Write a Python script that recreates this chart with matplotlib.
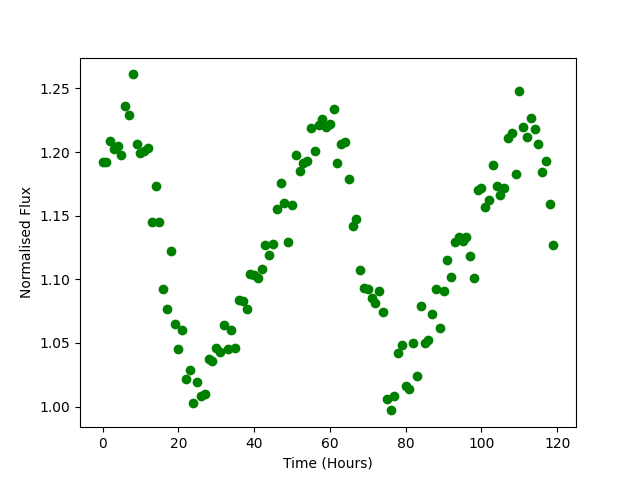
import matplotlib
matplotlib.use("Agg")
import matplotlib.pyplot as plt
import numpy as np

hours = list(range(120))
flux = [
    1.192, 1.192, 1.209, 1.202, 1.205, 1.198, 1.236, 1.229, 1.261, 1.206,
    1.199, 1.201, 1.203, 1.145, 1.173, 1.145, 1.092, 1.077, 1.122, 1.065,
    1.045, 1.060, 1.022, 1.029, 1.003, 1.019, 1.008, 1.010, 1.037, 1.036,
    1.046, 1.043, 1.064, 1.045, 1.060, 1.046, 1.084, 1.083, 1.077, 1.104,
    1.103, 1.101, 1.108, 1.127, 1.119, 1.128, 1.155, 1.176, 1.160, 1.129,
    1.158, 1.198, 1.185, 1.191, 1.193, 1.219, 1.201, 1.221, 1.226, 1.220,
    1.222, 1.234, 1.191, 1.206, 1.208, 1.179, 1.142, 1.147, 1.107, 1.093,
    1.092, 1.085, 1.081, 1.091, 1.074, 1.006, 0.997, 1.008, 1.042, 1.048,
    1.016, 1.014, 1.050, 1.024, 1.079, 1.050, 1.052, 1.073, 1.092, 1.062,
    1.091, 1.115, 1.102, 1.129, 1.133, 1.130, 1.133, 1.118, 1.101, 1.170,
    1.172, 1.157, 1.162, 1.190, 1.173, 1.166, 1.172, 1.211, 1.215, 1.183,
    1.248, 1.220, 1.212, 1.227, 1.218, 1.206, 1.184, 1.193, 1.159, 1.127,
]

fig, ax = plt.subplots(figsize=(6.4, 4.8), dpi=100)
ax.plot(hours, flux, 'o', color='green')
ax.set_xlabel('Time (Hours)')
ax.set_ylabel('Normalised Flux')
fig.savefig('out.png')
